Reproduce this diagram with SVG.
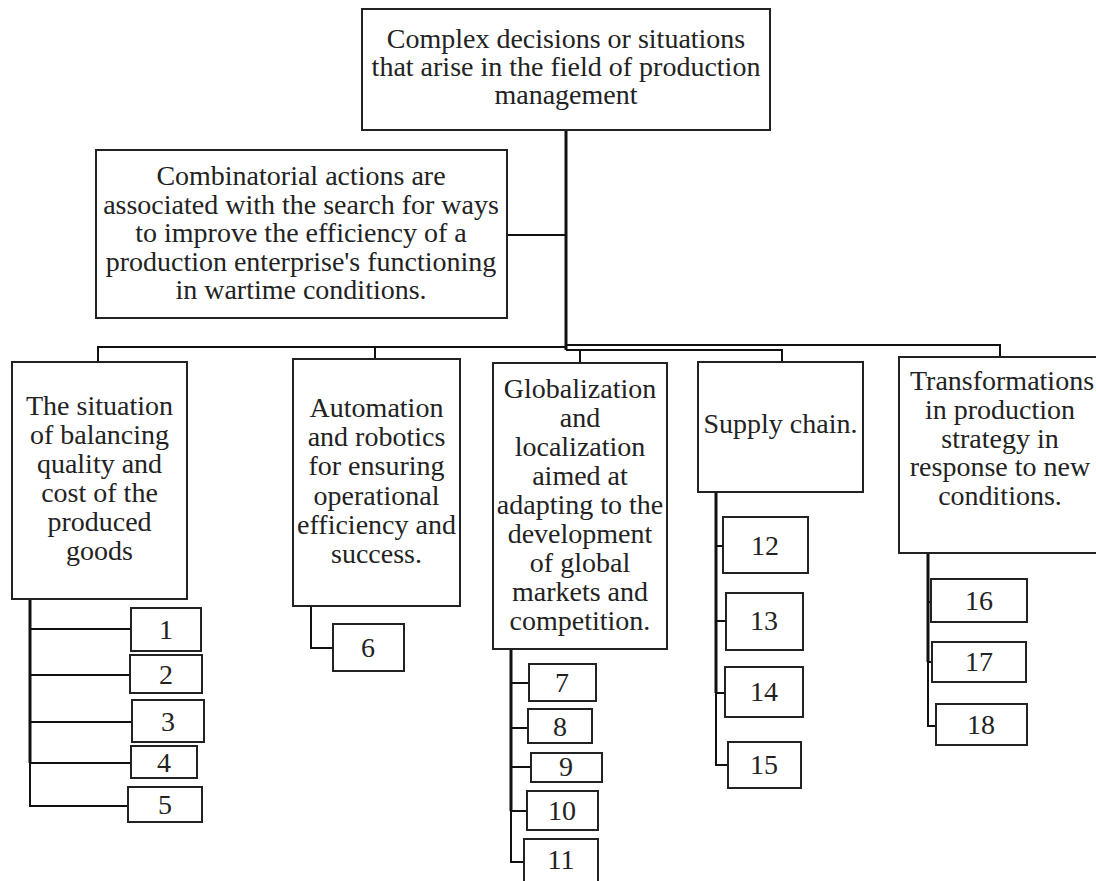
<svg xmlns="http://www.w3.org/2000/svg" width="1096" height="881" viewBox="0 0 1096 881">
<style>
.box{fill:#fff;stroke:#222;stroke-width:2}
.t{font-family:"Liberation Serif","Times New Roman",serif;font-size:28px;fill:#222;text-anchor:middle}
.c{fill:none;stroke:#111;stroke-width:2}
.k{fill:none;stroke:#111;stroke-width:3}
</style>
<rect width="1096" height="881" fill="#fff"/>
<g id="connectors">
<path class="k" d="M566,130 V350"/>
<path class="c" d="M507,235 H566"/>
<path class="c" d="M98,362 V347 H566"/>
<path class="c" d="M375,347 V359"/>
<path class="c" d="M566,345 H1000 V357"/>
<path class="c" d="M566,350 H782 V362"/>
<path class="c" d="M580,350 V363"/>
<path class="k" d="M30,599 V763"/>
<path class="c" d="M30,763 V806 H128"/>
<path class="c" d="M30,629 H131 M30,675 H130 M30,722 H132 M30,763 H131"/>
<path class="c" d="M311,606 V648 H333"/>
<path class="k" d="M511,649 V811"/>
<path class="c" d="M511,811 V862 H524"/>
<path class="c" d="M511,683 H529 M511,728 H528 M511,767 H531 M511,811 H527"/>
<path class="k" d="M716,492 V693"/>
<path class="c" d="M716,693 V765 H728"/>
<path class="c" d="M716,546 H723 M716,621 H726 M716,693 H725"/>
<path class="k" d="M928,553 V662"/>
<path class="c" d="M928,662 V726 H936"/>
<path class="c" d="M928,602 H931 M928,662 H932"/>
</g>
<g id="root">
<rect class="box" x="362" y="9" width="408" height="121"/>
<text class="t" x="566" y="48">Complex decisions or situations</text>
<text class="t" x="566" y="76">that arise in the field of production</text>
<text class="t" x="566" y="104">management</text>
</g>
<g id="combinatorial">
<rect class="box" x="96" y="150" width="411" height="168"/>
<text class="t" x="301" y="185">Combinatorial actions are</text>
<text class="t" x="301" y="214">associated with the search for ways</text>
<text class="t" x="301" y="242">to improve the efficiency of a</text>
<text class="t" x="301" y="271">production enterprise's functioning</text>
<text class="t" x="301" y="299">in wartime conditions.</text>
</g>
<g id="quality">
<rect class="box" x="12" y="362" width="175" height="237"/>
<text class="t" x="99.5" y="415">The situation</text>
<text class="t" x="99.5" y="444">of balancing</text>
<text class="t" x="99.5" y="473">quality and</text>
<text class="t" x="99.5" y="502">cost of the</text>
<text class="t" x="99.5" y="531">produced</text>
<text class="t" x="99.5" y="560">goods</text>
</g>
<g id="automation">
<rect class="box" x="293" y="359" width="167" height="247"/>
<text class="t" x="376.5" y="417">Automation</text>
<text class="t" x="376.5" y="446">and robotics</text>
<text class="t" x="376.5" y="475">for ensuring</text>
<text class="t" x="376.5" y="505">operational</text>
<text class="t" x="376.5" y="534">efficiency and</text>
<text class="t" x="376.5" y="563">success.</text>
</g>
<g id="globalization">
<rect class="box" x="493" y="363" width="174" height="286"/>
<text class="t" x="580" y="398">Globalization</text>
<text class="t" x="580" y="427">and</text>
<text class="t" x="580" y="456">localization</text>
<text class="t" x="580" y="485">aimed at</text>
<text class="t" x="580" y="514">adapting to the</text>
<text class="t" x="580" y="543">development</text>
<text class="t" x="580" y="572">of global</text>
<text class="t" x="580" y="601">markets and</text>
<text class="t" x="580" y="630">competition.</text>
</g>
<g id="supply">
<rect class="box" x="698" y="362" width="165" height="130"/>
<text class="t" x="780.5" y="433">Supply chain.</text>
</g>
<g id="transformations">
<rect class="box" x="899" y="357" width="200" height="196"/>
<text class="t" x="1002" y="390">Transformations</text>
<text class="t" x="1000" y="419">in production</text>
<text class="t" x="1000" y="448">strategy in</text>
<text class="t" x="1000" y="476">response to new</text>
<text class="t" x="1000" y="505">conditions.</text>
</g>
<g id="n1"><rect class="box" x="131" y="608" width="70" height="43"/><text class="t" x="166" y="639">1</text></g>
<g id="n2"><rect class="box" x="130" y="655" width="72" height="38"/><text class="t" x="166" y="684">2</text></g>
<g id="n3"><rect class="box" x="132" y="700" width="72" height="42"/><text class="t" x="168" y="731">3</text></g>
<g id="n4"><rect class="box" x="131" y="746" width="66" height="32"/><text class="t" x="164" y="772">4</text></g>
<g id="n5"><rect class="box" x="128" y="787" width="74" height="35"/><text class="t" x="165" y="814">5</text></g>
<g id="n6"><rect class="box" x="333" y="624" width="71" height="47"/><text class="t" x="368" y="657">6</text></g>
<g id="n7"><rect class="box" x="529" y="664" width="67" height="37"/><text class="t" x="562" y="692">7</text></g>
<g id="n8"><rect class="box" x="528" y="709" width="64" height="34"/><text class="t" x="560" y="736">8</text></g>
<g id="n9"><rect class="box" x="531" y="753" width="71" height="29"/><text class="t" x="566" y="776">9</text></g>
<g id="n10"><rect class="box" x="527" y="791" width="71" height="39"/><text class="t" x="562" y="820">10</text></g>
<g id="n11"><rect class="box" x="524" y="839" width="74" height="50"/><text class="t" x="561" y="869">11</text></g>
<g id="n12"><rect class="box" x="723" y="517" width="85" height="56"/><text class="t" x="765" y="555">12</text></g>
<g id="n13"><rect class="box" x="726" y="593" width="77" height="57"/><text class="t" x="764" y="630">13</text></g>
<g id="n14"><rect class="box" x="725" y="667" width="78" height="50"/><text class="t" x="764" y="701">14</text></g>
<g id="n15"><rect class="box" x="728" y="742" width="73" height="46"/><text class="t" x="764" y="774">15</text></g>
<g id="n16"><rect class="box" x="931" y="579" width="96" height="43"/><text class="t" x="979" y="610">16</text></g>
<g id="n17"><rect class="box" x="932" y="642" width="94" height="40"/><text class="t" x="979" y="671">17</text></g>
<g id="n18"><rect class="box" x="936" y="704" width="91" height="41"/><text class="t" x="981" y="734">18</text></g>
</svg>
